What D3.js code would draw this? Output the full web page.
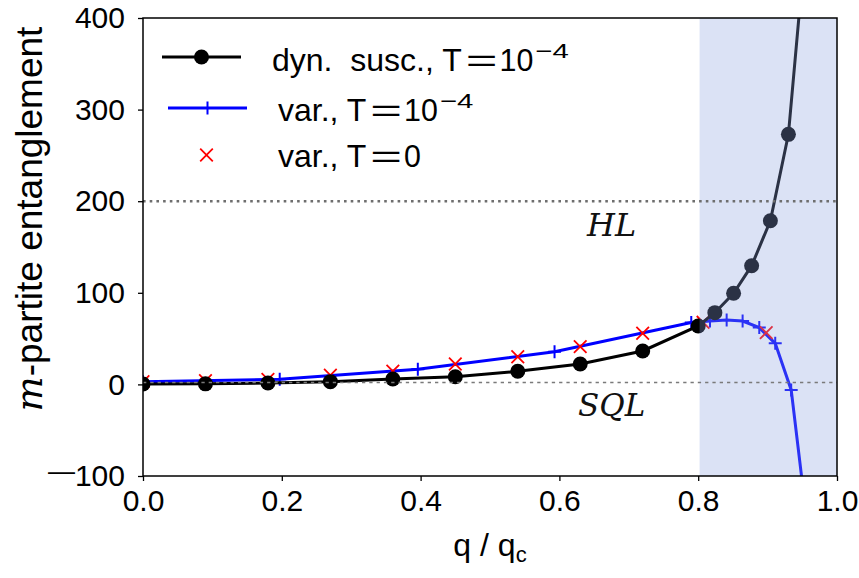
<!DOCTYPE html>
<html>
<head>
<meta charset="utf-8">
<script src="https://cdn.jsdelivr.net/npm/d3@7"></script>
<style>
  html, body { margin: 0; padding: 0; background: #fff; }
  svg { display: block; }
</style>
</head>
<body>
<svg id="chart" width="859" height="578" font-family="'Liberation Sans', Arial, sans-serif"></svg>
<script>
// ---- data ----
const dynX = [0, 0.09, 0.18, 0.27, 0.36, 0.45, 0.54, 0.63, 0.72, 0.80, 0.824, 0.851, 0.877, 0.904, 0.930, 0.958];
const dynY = [0.4, 0.6, 1.5, 3, 5.9, 8.4, 14.3, 22.3, 36.5, 63.8, 78.3, 99.5, 129.6, 178.7, 273, 510];

const varX = [0, 0.197, 0.396, 0.593, 0.79, 0.817, 0.841, 0.864, 0.888, 0.911, 0.934, 0.956];
const varY = [3, 5.6, 16.5, 35.7, 67.5, 69.2, 70.3, 69.2, 62, 44.8, -6, -145];

const var0X = [0, 0.09, 0.18, 0.27, 0.36, 0.45, 0.54, 0.63, 0.72, 0.807, 0.898];
const var0Y = [3, 4, 5.5, 10, 14.5, 22.3, 30.2, 41.2, 55.8, 67.8, 56.5];

const xTicks = [0, 0.2, 0.4, 0.6, 0.8, 1.0];
const yTicks = [-100, 0, 100, 200, 300, 400];
const hlValue = 200;
const sqlValue = 2;
const spanStart = 0.802, spanEnd = 1.0;

const legendLabels = [
  {pre: "dyn.  susc., T", num: "10", sup: "−4"},
  {pre: "var., T", num: "10", sup: "−4"},
  {pre: "var., T", num: "0", sup: ""}
];

// ---- layout ----
const svg = d3.select("#chart");
const L = 143, R = 837, T = 18, B = 476;
const x = d3.scaleLinear().domain([0, 1]).range([L, R]);
const y = d3.scaleLinear().domain([-100, 400]).range([B, T]);

svg.append("defs").append("clipPath").attr("id", "clip")
  .append("rect").attr("x", L).attr("y", T).attr("width", R - L).attr("height", B - T);

const plot = svg.append("g").attr("clip-path", "url(#clip)");

const line = d3.line().x(d => x(d[0])).y(d => y(d[1]));
const dyn = dynX.map((v, i) => [v, dynY[i]]);
const vr = varX.map((v, i) => [v, varY[i]]);
const v0 = var0X.map((v, i) => [v, var0Y[i]]);

const plus = (sel, s) => sel.append("path").attr("d", `M${-s},0H${s}M0,${-s}V${s}`);
const cross = (sel, s) => sel.append("path").attr("d", `M${-s},${-s}L${s},${s}M${-s},${s}L${s},${-s}`);

// blue series
plot.append("path").datum(vr).attr("d", line)
  .attr("fill", "none").attr("stroke", "#0000ff").attr("stroke-width", 3);
plot.selectAll("g.plus").data(vr).join("g").attr("class", "plus")
  .attr("transform", d => `translate(${x(d[0])},${y(d[1])})`)
  .each(function () { plus(d3.select(this), 6.5).attr("stroke", "#0000ff").attr("stroke-width", 2); });

// red x markers
plot.selectAll("g.xm").data(v0).join("g").attr("class", "xm")
  .attr("transform", d => `translate(${x(d[0])},${y(d[1])})`)
  .each(function () { cross(d3.select(this), 6.3).attr("stroke", "#ff0000").attr("stroke-width", 1.8); });

// black series
plot.append("path").datum(dyn).attr("d", line)
  .attr("fill", "none").attr("stroke", "#000").attr("stroke-width", 3);
plot.selectAll("circle.dyn").data(dyn).join("circle").attr("class", "dyn")
  .attr("cx", d => x(d[0])).attr("cy", d => y(d[1])).attr("r", 7.5).attr("fill", "#000");

// shaded span (translucent, on top of the curves)
plot.append("rect")
  .attr("x", x(spanStart)).attr("y", T)
  .attr("width", x(spanEnd) - x(spanStart)).attr("height", B - T)
  .attr("fill", "rgb(140,163,223)").attr("fill-opacity", 0.31);

// reference lines
plot.append("line").attr("x1", L).attr("x2", R).attr("y1", y(hlValue)).attr("y2", y(hlValue))
  .attr("stroke", "#6e6e6e").attr("stroke-width", 2.6).attr("stroke-dasharray", "2.6,4.1");
plot.append("line").attr("x1", L).attr("x2", R).attr("y1", y(sqlValue)).attr("y2", y(sqlValue))
  .attr("stroke", "#7a7a7a").attr("stroke-width", 1.5).attr("stroke-dasharray", "3.3,4");

// annotations
const serif = "'DejaVu Serif', 'Liberation Serif', serif";
svg.append("text").attr("x", 587).attr("y", 236)
  .style("font-family", serif).style("font-style", "italic")
  .attr("font-size", 32).attr("fill", "#111").text("HL");
svg.append("text").attr("x", 578).attr("y", 416)
  .style("font-family", serif).style("font-style", "italic")
  .attr("font-size", 31).attr("fill", "#111").text("SQL");

// axes
const yAxis = d3.axisLeft(y).tickValues(yTicks).tickSize(5).tickPadding(13)
  .tickFormat(d => d3.format("d")(d).replace("-", "−"));
const gy = svg.append("g").attr("transform", `translate(${L},0)`).call(yAxis);
const xAxis = d3.axisBottom(x).tickValues(xTicks).tickSize(5).tickPadding(9)
  .tickFormat(d3.format(".1f"));
const gx = svg.append("g").attr("transform", `translate(0,${B})`).call(xAxis);
[gx, gy].forEach(g => {
  g.attr("font-family", null).attr("font-size", null);
  g.select(".domain").remove();
  g.selectAll(".tick line").attr("stroke", "#000").attr("stroke-width", 1.3);
  g.selectAll(".tick text").attr("font-size", 30).attr("fill", "#000");
});
// wide math minus sign on negative tick labels
gy.selectAll(".tick text").filter(d => d < 0).each(function (d) {
  const t = d3.select(this).text("").attr("dy", null);
  t.append("tspan").attr("font-size", 27).attr("dy", 3.2).text("—");
  t.append("tspan").attr("dy", 6.4).text(d3.format("d")(Math.abs(d)));
});

// spines
svg.append("rect").attr("x", L).attr("y", T).attr("width", R - L).attr("height", B - T)
  .attr("fill", "none").attr("stroke", "#000").attr("stroke-width", 1.5);

// axis labels
const yl = svg.append("text").attr("transform", `translate(42,219) rotate(-90)`)
  .attr("text-anchor", "middle").attr("font-size", 37).attr("fill", "#000");
yl.append("tspan").style("font-style", "italic").style("font-family", serif).text("m");
yl.append("tspan").text("-partite entanglement");

const xl = svg.append("text").attr("x", (L + R) / 2).attr("y", 556)
  .attr("text-anchor", "middle").attr("font-size", 32).attr("fill", "#000");
xl.append("tspan").text("q / q");
xl.append("tspan").attr("font-size", 22).attr("dy", 6).text("c");

// legend
const lg = svg.append("g");
lg.append("line").attr("x1", 162).attr("x2", 241).attr("y1", 57).attr("y2", 57)
  .attr("stroke", "#000").attr("stroke-width", 3);
lg.append("circle").attr("cx", 201.5).attr("cy", 57).attr("r", 7.5).attr("fill", "#000");
lg.append("line").attr("x1", 168).attr("x2", 247).attr("y1", 108).attr("y2", 108)
  .attr("stroke", "#0000ff").attr("stroke-width", 3);
plus(lg.append("g").attr("transform", "translate(207.5,108)"), 6.5)
  .attr("stroke", "#0000ff").attr("stroke-width", 2);
cross(lg.append("g").attr("transform", "translate(206.5,155)"), 6.3)
  .attr("stroke", "#ff0000").attr("stroke-width", 1.8);

// label pieces laid out one after another (wide math "=" like the original)
function piece(x0, yb, txt, size, sx, dy) {
  const t = lg.append("text").attr("font-size", size).attr("fill", "#000")
    .style("white-space", "pre")
    .attr("transform", `translate(${x0},${yb + (dy || 0)}) scale(${sx},1)`).text(txt);
  return x0 + t.node().getComputedTextLength() * sx;
}
const lgPos = [[272, 71], [278, 121], [278, 167]];
legendLabels.forEach((lab, i) => {
  const [x0, yb] = lgPos[i];
  let cx = piece(x0, yb, lab.pre, 32, 1);
  cx = piece(cx + 4, yb, "=", 32, 1.7);
  cx = piece(cx + 2, yb, lab.num, 32, 0.95);
  if (lab.sup) piece(cx + 2, yb, lab.sup, 21, 1.4, -13);
});
</script>
</body>
</html>
